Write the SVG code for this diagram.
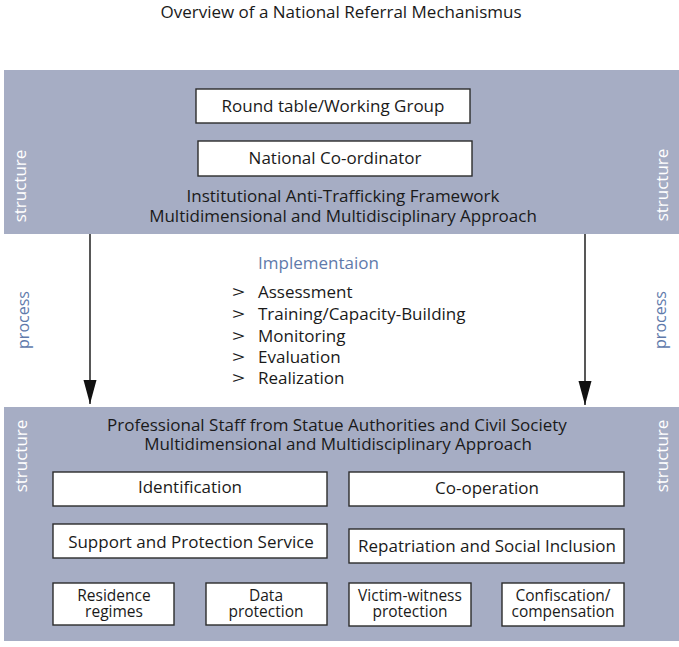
<svg xmlns="http://www.w3.org/2000/svg" width="679" height="647" viewBox="0 0 679 647">
<style>
text{font-family:"Open Sans","Noto Sans","DejaVu Sans",sans-serif;font-size:17px;fill:#1a1a1a}
.c{text-anchor:middle}
.sm{font-size:15.5px}
.band{fill:#a6adc4}
.box{fill:#ffffff;stroke:#2b2b2b;stroke-width:1.4}
.vs{fill:#ffffff;font-size:17px;text-anchor:middle}
.vp{fill:#5f7aab;font-size:16px;text-anchor:middle}
.blue{fill:#5f7aab}
.arrow{stroke:#111;stroke-width:1.4;fill:none}
</style>
<defs>
<marker id="ah" markerUnits="userSpaceOnUse" markerWidth="24" markerHeight="14" viewBox="0 0 24 14" refX="24" refY="7" orient="auto">
<path d="M0,0.5 L24,7 L0,13.5 z" fill="#111"/>
</marker>
</defs>

<text id="title" class="c" x="341" y="18">Overview of a National Referral Mechanismus</text>

<g id="band-top">
<rect class="band" x="4" y="70" width="675" height="164"/>
<text class="vs" transform="translate(26,186) rotate(-90)">structure</text>
<text class="vs" transform="translate(668,185) rotate(-90)">structure</text>
<text class="c" x="343" y="202">Institutional Anti-Trafficking Framework</text>
<text class="c" x="343" y="222">Multidimensional and Multidisciplinary Approach</text>
</g>

<g id="roundtable">
<rect class="box" x="196" y="89" width="274" height="34"/>
<text class="c" x="333" y="112">Round table/Working Group</text>
</g>

<g id="coordinator">
<rect class="box" x="198" y="141" width="274" height="35"/>
<text class="c" x="335" y="164">National Co-ordinator</text>
</g>

<g id="process">
<text class="vp" transform="translate(29,320) rotate(-90)">process</text>
<text class="vp" transform="translate(666,320) rotate(-90)">process</text>
<text class="blue" x="258" y="269">Implementaion</text>
<text transform="translate(232,298) scale(1.35,1)">&gt;</text><text x="258" y="298">Assessment</text>
<text transform="translate(232,320) scale(1.35,1)">&gt;</text><text x="258" y="320">Training/Capacity-Building</text>
<text transform="translate(232,342) scale(1.35,1)">&gt;</text><text x="258" y="342">Monitoring</text>
<text transform="translate(232,363) scale(1.35,1)">&gt;</text><text x="258" y="363">Evaluation</text>
<text transform="translate(232,384) scale(1.35,1)">&gt;</text><text x="258" y="384">Realization</text>
</g>

<g id="band-bottom">
<rect class="band" x="4" y="407" width="675" height="234"/>
<text class="vs" transform="translate(27,456) rotate(-90)">structure</text>
<text class="vs" transform="translate(668,456) rotate(-90)">structure</text>
<text class="c" x="337" y="431">Professional Staff from Statue Authorities and Civil Society</text>
<text class="c" x="338" y="450">Multidimensional and Multidisciplinary Approach</text>
</g>

<g id="identification">
<rect class="box" x="53" y="472" width="274" height="34"/>
<text class="c" x="190" y="493">Identification</text>
</g>

<g id="cooperation">
<rect class="box" x="349" y="472" width="275" height="34"/>
<text class="c" x="487" y="494">Co-operation</text>
</g>

<g id="support">
<rect class="box" x="53" y="524" width="274" height="34"/>
<text class="c" x="191" y="548">Support and Protection Service</text>
</g>

<g id="repatriation">
<rect class="box" x="349" y="529" width="275" height="34"/>
<text class="c" x="487" y="552">Repatriation and Social Inclusion</text>
</g>

<g id="residence">
<rect class="box" x="53" y="583" width="121" height="42"/>
<text class="c sm"><tspan x="114" y="601">Residence</tspan><tspan x="114" y="617">regimes</tspan></text>
</g>

<g id="data">
<rect class="box" x="206" y="583" width="121" height="42"/>
<text class="c sm"><tspan x="266" y="601">Data</tspan><tspan x="266" y="617">protection</tspan></text>
</g>

<g id="victim">
<rect class="box" x="349" y="583" width="122" height="43"/>
<text class="c sm"><tspan x="410" y="601">Victim-witness</tspan><tspan x="410" y="617">protection</tspan></text>
</g>

<g id="confiscation">
<rect class="box" x="502" y="583" width="122" height="43"/>
<text class="c sm"><tspan x="563" y="601">Confiscation/</tspan><tspan x="563" y="617">compensation</tspan></text>
</g>

<g id="connectors">
<line class="arrow" x1="90" y1="234" x2="90" y2="404" marker-end="url(#ah)"/>
<line class="arrow" x1="585" y1="234" x2="585" y2="405" marker-end="url(#ah)"/>
</g>
</svg>
